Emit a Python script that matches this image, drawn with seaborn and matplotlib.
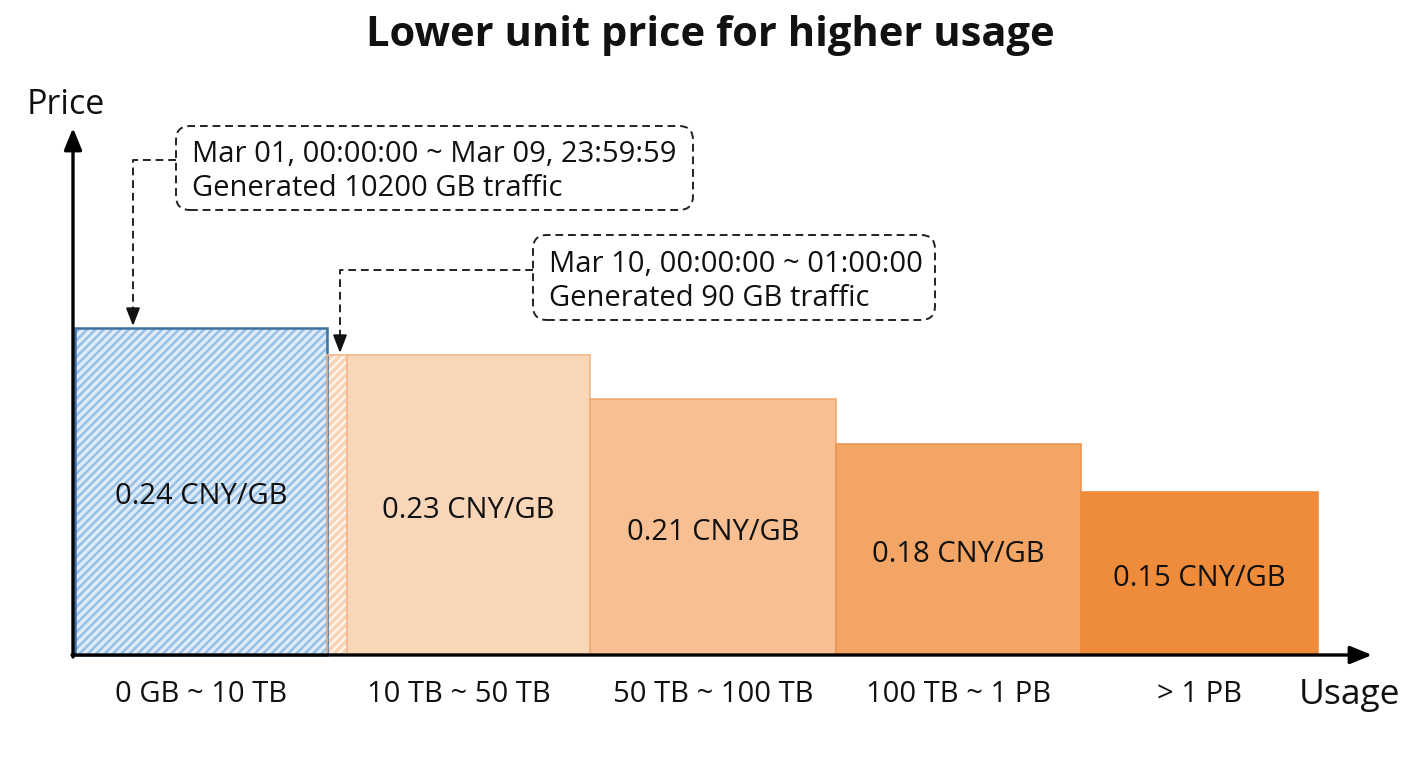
import matplotlib
matplotlib.use("Agg")
import matplotlib.pyplot as plt
from matplotlib.patches import FancyBboxPatch, Rectangle
import seaborn as sns
import numpy as np

# ---- data ----
tiers = ["0 GB ~ 10 TB", "10 TB ~ 50 TB", "50 TB ~ 100 TB", "100 TB ~ 1 PB", "> 1 PB"]
prices = [0.24, 0.23, 0.21, 0.18, 0.15]
price_labels = [f"{p:.2f} CNY/GB" for p in prices]
# schematic bar heights (visual units)
bar_heights = [327, 300, 256, 211, 163]
note1_lines = ["Mar 01, 00:00:00 ~ Mar 09, 23:59:59", "Generated 10200 GB traffic"]
note2_lines = ["Mar 10, 00:00:00 ~ 01:00:00", "Generated 90 GB traffic"]
title = "Lower unit price for higher usage"
ylabel = "Price"
xlabel = "Usage"

# ---- layout (pixel-like canvas coordinates, origin at axis corner) ----
W, H = 1408, 768
Y0 = 655                 # pixel row of the x axis
tier_edges = [75, 327, 590, 836, 1081, 1318]
slice_right = 347        # end of the partially used part of tier 2
TXT_DY = 4               # baseline correction for vertically centred text

bar_colors = ["#dfecf8", "#fad6b8", "#f7bf92", "#f3a565", "#ef8c3b"]
bar_edges = ["#3f6f9f", "#f2b78b", "#efaa72", "#eb964f", "#ef8c3b"]

sns.set_theme(style="white")
plt.rcParams["font.family"] = ["Open Sans", "DejaVu Sans"]
plt.rcParams["hatch.linewidth"] = 1.8

fig = plt.figure(figsize=(W / 100, H / 100), dpi=100)
ax = fig.add_axes([0, 0, 1, 1])
ax.set_xlim(0, W)
ax.set_ylim(Y0 - H, Y0)   # data y = 655 - pixel_y
ax.axis("off")

def py(p):
    return Y0 - p

centers = [(tier_edges[i] + tier_edges[i + 1]) / 2 for i in range(len(tiers))]
sns.barplot(x=centers, y=bar_heights, hue=tiers, hue_order=tiers, palette=bar_colors,
            native_scale=True, legend=False, ax=ax, saturation=1, zorder=2)

bars = [p for p in ax.patches]
bars.sort(key=lambda r: r.get_x())
for i, r in enumerate(bars):
    left = tier_edges[i] if i != 1 else slice_right
    r.set_x(left)
    r.set_width(tier_edges[i + 1] - left)
    r.set_facecolor(bar_colors[i])
    r.set_edgecolor(bar_edges[i])
    r.set_linewidth(1.2)

# tier 1 hatched (fully used)
b0 = bars[0]
b0.set_edgecolor("#96bfe5")
b0.set_hatch("////")
b0.set_linewidth(0)
ax.add_patch(Rectangle((b0.get_x(), 0), b0.get_width(), b0.get_height(), fill=False,
                       edgecolor=bar_edges[0], linewidth=1.8, zorder=3))

# partially used part of tier 2 (hatched slice)
ax.add_patch(Rectangle((tier_edges[1], 0), slice_right - tier_edges[1], bar_heights[1],
                       facecolor="#f9d3b3", edgecolor="#fff4ea", hatch="////", linewidth=0, zorder=2))
ax.add_patch(Rectangle((tier_edges[1], 0), slice_right - tier_edges[1], bar_heights[1],
                       fill=False, edgecolor=bar_edges[1], linewidth=1.2, zorder=3))

# price labels inside the bars
for i, r in enumerate(bars):
    cx = (tier_edges[i] + tier_edges[i + 1]) / 2 if i != 1 else (slice_right + tier_edges[2]) / 2
    ax.text(cx, r.get_height() / 2 - TXT_DY - 1, price_labels[i], ha="center", va="center",
            fontsize=21, color="#111111", zorder=4)

# tier labels under the axis
for i, t in enumerate(tiers):
    cx = (tier_edges[i] + tier_edges[i + 1]) / 2 if i != 1 else 459
    ax.text(cx, py(690 + TXT_DY), t, ha="center", va="center", fontsize=21, color="#111111")

# axes with arrows
ax.annotate("", xy=(73, py(128)), xytext=(73, py(657)),
            arrowprops=dict(arrowstyle="-|>,head_length=1.1,head_width=0.45", color="black",
                            lw=2.4, shrinkA=0, shrinkB=0), zorder=5)
ax.annotate("", xy=(1372, py(655)), xytext=(72, py(655)),
            arrowprops=dict(arrowstyle="-|>,head_length=1.1,head_width=0.45", color="black",
                            lw=2.4, shrinkA=0, shrinkB=0), zorder=5)

ax.text(66, py(101 + TXT_DY), ylabel, ha="center", va="center", fontsize=24.5, color="#111111")
ax.text(1349, py(691 + TXT_DY), xlabel, ha="center", va="center", fontsize=25.5, color="#111111")
ax.text(710, py(32 + TXT_DY), title, ha="center", va="center", fontsize=30, fontweight="bold",
        color="#111111")

# notes with dashed rounded boxes and connectors
def note(x0, x1, ytop, ybot, lines, conn_y, conn_x, tip_y):
    box = FancyBboxPatch((x0, py(ybot)), x1 - x0, ybot - ytop,
                         boxstyle="round,pad=0,rounding_size=14", fill=True, facecolor="white",
                         edgecolor="#222222", linewidth=1.4, linestyle=(0, (4, 2.5)), zorder=4)
    ax.add_patch(box)
    ax.text(x0 + 16, py(ytop + 26 + TXT_DY - 1), lines[0], ha="left", va="center",
            fontsize=21, color="#111111", zorder=5)
    ax.text(x0 + 16, py(ytop + 60 + TXT_DY - 1), lines[1], ha="left", va="center",
            fontsize=21, color="#111111", zorder=5)
    ax.plot([x0, conn_x, conn_x], [py(conn_y), py(conn_y), py(tip_y - 16)],
            color="#222222", lw=1.4, linestyle=(0, (4, 2.5)), zorder=4)
    ax.annotate("", xy=(conn_x, py(tip_y)), xytext=(conn_x, py(tip_y - 18)),
                arrowprops=dict(arrowstyle="-|>,head_length=0.9,head_width=0.35",
                                color="#111111", lw=1.4, shrinkA=0, shrinkB=0), zorder=5)

note(176, 693, 126, 210, note1_lines, 160, 133, 326)
note(533, 935, 235, 320, note2_lines, 270, 340, 353)

fig.savefig("out.png", dpi=100, facecolor="white")
